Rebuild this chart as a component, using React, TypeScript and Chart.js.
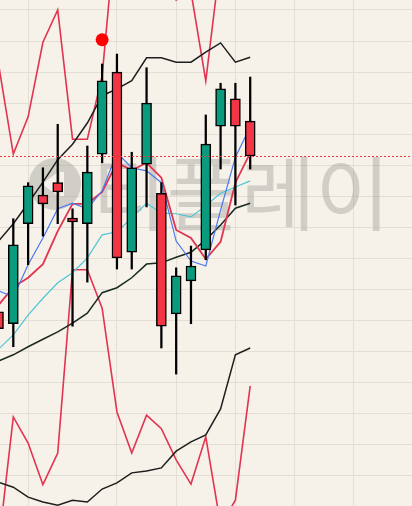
import React, { useEffect, useRef } from "react";
import { Chart, registerables } from "chart.js";

Chart.register(...registerables);

// candle index positions
const IDX = [0, 1, 2, 3, 4, 5, 6, 7, 8, 9, 10, 11, 12, 13, 14, 15, 16, 17];

const OPEN = [42640, 42450, 44060, 44520, 44720, 44150, 44060, 45180, 46500, 43600, 45020, 44550, 42610, 43140, 43640, 45630, 46070, 45710];
const HIGH = [42750, 44140, 44720, 44960, 45660, 44300, 45310, 46630, 46790, 45210, 46570, 44720, 43350, 43700, 45810, 46320, 46320, 46420];
const LOW = [42270, 42080, 43400, 43860, 44060, 42410, 43120, 45040, 43330, 43330, 44330, 42060, 41640, 42450, 43480, 44940, 44360, 44940];
const CLOSE = [42370, 43720, 44670, 44380, 44570, 44090, 44890, 46360, 43510, 44960, 46000, 42410, 43220, 43380, 45340, 46230, 45630, 45150];

const MA_BLUE = [42980, 42880, 43400, 43830, 44300, 44390, 44300, 44590, 45200, 44960, 44910, 44720, 43780, 43460, 43380, 44280, 45130, 45620];
const MA_RED = [42750, 43040, 43190, 43410, 43940, 44380, 44380, 44570, 45040, 44920, 45040, 44800, 43960, 43830, 43490, 43770, 44720, 45200];
const MA_CYAN = [42040, 42270, 42590, 42860, 43110, 43270, 43510, 43880, 43930, 44150, 44390, 44230, 44220, 44170, 44350, 44550, 44650, 44750];

const BB_UPPER = [43780, 44060, 44390, 44730, 45090, 45340, 45680, 46120, 46230, 46360, 46730, 46730, 46660, 46660, 46820, 46970, 46660, 46740];
const BB_MIDDLE = [41850, 41950, 42080, 42200, 42320, 42460, 42620, 42950, 43030, 43190, 43410, 43430, 43520, 43600, 43800, 44040, 44310, 44390];
const BB_LOWER = [39900, 39820, 39660, 39580, 39530, 39610, 39580, 39790, 39890, 40050, 40080, 40130, 40400, 40550, 40660, 41080, 41950, 42060];

const BAND_UPPER = [46630, 45180, 45780, 46980, 47500, 45420, 45420, 46440, 49040, 49480, 49090, 48840, 47660, 47790, 46360, 48320, 49820, 48950];
const BAND_LOWER = [38870, 40950, 40530, 39860, 40370, 43320, 43320, 42700, 41030, 40370, 40980, 40760, 40260, 39870, 40630, 39210, 39610, 41450];

const SIGNAL_X = [7];
const SIGNAL_Y = [47020];

const GRID_X = [2, 8, 12, 16, 20, 24];
const GRID_Y = [40000, 40500, 41000, 41500, 42000, 42500, 43000, 43500, 44000, 44500, 45000, 45500, 46000, 46500, 47000, 47500];

const Y_MIN = 39517;
const Y_MAX = 47660;
const X_MIN = 0.1013;
const X_MAX = 27.928;

const BG = "#f6f2ea";
const GRID = "#e4dfd5";
const UP = "#0a9a7e";
const DOWN = "#f23645";
const WATERMARK = "rgba(150,148,142,0.38)";

export default function App() {
  const ref = useRef<HTMLCanvasElement | null>(null);

  useEffect(() => {
    if (!ref.current) return;
    document.body.style.margin = "0";

    const bgPlugin = {
      id: "bg",
      beforeDraw(chart: any) {
        const { ctx, width, height } = chart;
        ctx.save();
        ctx.fillStyle = BG;
        ctx.fillRect(0, 0, width, height);
        ctx.restore();
      },
    };

    const watermark = {
      id: "watermark",
      beforeDatasetsDraw(chart: any) {
        const { ctx } = chart;
        ctx.save();
        ctx.fillStyle = WATERMARK;
        ctx.beginPath();
        ctx.arc(55, 184, 26, 0, Math.PI * 2);
        ctx.fill();
        ctx.fillStyle = BG;
        ctx.beginPath();
        ctx.moveTo(42, 184);
        ctx.lineTo(58, 172);
        ctx.lineTo(58, 196);
        ctx.closePath();
        ctx.fill();
        ctx.fillRect(60, 172, 4, 24);
        ctx.fillStyle = WATERMARK;
        ctx.font = '81px "Noto Sans CJK KR"';
        ctx.textBaseline = "alphabetic";
        ctx.fillText("티플레이", 92, 224);
        ctx.restore();
      },
    };

    const lastLine = {
      id: "lastLine",
      afterDatasetsDraw(chart: any) {
        const { ctx, chartArea } = chart;
        const y = Math.round(chart.scales.y.getPixelForValue(CLOSE[CLOSE.length - 1])) + 0.5;
        ctx.save();
        ctx.strokeStyle = "#f03a3a";
        ctx.lineWidth = 1;
        ctx.setLineDash([2, 2]);
        ctx.beginPath();
        ctx.moveTo(chartArea.left, y);
        ctx.lineTo(chartArea.right, y);
        ctx.stroke();
        ctx.restore();
      },
    };

    const line = (data: number[], color: string, width: number, order: number) => ({
      type: "line" as const,
      data: IDX.map((i) => ({ x: i, y: data[i] })),
      borderColor: color,
      borderWidth: width,
      pointRadius: 0,
      tension: 0,
      fill: false,
      order,
    });

    const chart = new Chart(ref.current, {
      type: "bar",
      data: {
        datasets: [
          {
            type: "line",
            data: SIGNAL_X.map((x, k) => ({ x, y: SIGNAL_Y[k] })),
            showLine: false,
            pointRadius: 6.5,
            pointHoverRadius: 6.5,
            pointBackgroundColor: "#ff0000",
            pointBorderWidth: 0,
            order: 0,
          } as any,
          {
            type: "bar",
            data: IDX.map((i) => ({ x: i, y: [OPEN[i], CLOSE[i]] })),
            backgroundColor: IDX.map((i) => (CLOSE[i] >= OPEN[i] ? UP : DOWN)),
            borderColor: "#000",
            borderWidth: 1.5,
            borderSkipped: false,
            barThickness: 10,
            grouped: false,
            order: 1,
          } as any,
          {
            type: "bar",
            data: IDX.map((i) => ({ x: i, y: [LOW[i], HIGH[i]] })),
            backgroundColor: "#000",
            borderWidth: 0,
            barThickness: 1.6,
            grouped: false,
            order: 2,
          } as any,
          line(MA_BLUE, "#4a78f0", 1.2, 3),
          line(MA_RED, "#e2334f", 1.8, 3),
          line(MA_CYAN, "#4cc6d6", 1.2, 3),
          line(BB_UPPER, "#1e1e1e", 1.5, 4),
          line(BB_MIDDLE, "#1a2a20", 1.5, 4),
          line(BB_LOWER, "#1e1e1e", 1.5, 4),
          line(BAND_UPPER, "#e2334f", 1.6, 5),
          line(BAND_LOWER, "#e2334f", 1.6, 5),
        ],
      },
      options: {
        animation: false,
        responsive: false,
        devicePixelRatio: 1,
        layout: { padding: 0, autoPadding: false },
        plugins: { legend: { display: false }, tooltip: { enabled: false } },
        scales: {
          x: {
            type: "linear",
            min: X_MIN,
            max: X_MAX,
            offset: false,
            afterBuildTicks: (axis: any) => {
              axis.ticks = GRID_X.map((v) => ({ value: v }));
            },
            ticks: { display: false },
            grid: { color: GRID, lineWidth: 1, drawTicks: false, offset: false },
            border: { display: false },
          },
          y: {
            type: "linear",
            min: Y_MIN,
            max: Y_MAX,
            afterBuildTicks: (axis: any) => {
              axis.ticks = GRID_Y.map((v) => ({ value: v }));
            },
            ticks: { display: false },
            grid: { color: GRID, lineWidth: 1, drawTicks: false, offset: false },
            border: { display: false },
          },
        },
      } as any,
      plugins: [bgPlugin, watermark, lastLine],
    });

    return () => chart.destroy();
  }, []);

  return (
    <div style={{ position: "fixed", left: 0, top: 0, width: 412, height: 506 }}>
      <canvas ref={ref} width={412} height={506} style={{ display: "block" }} />
    </div>
  );
}
